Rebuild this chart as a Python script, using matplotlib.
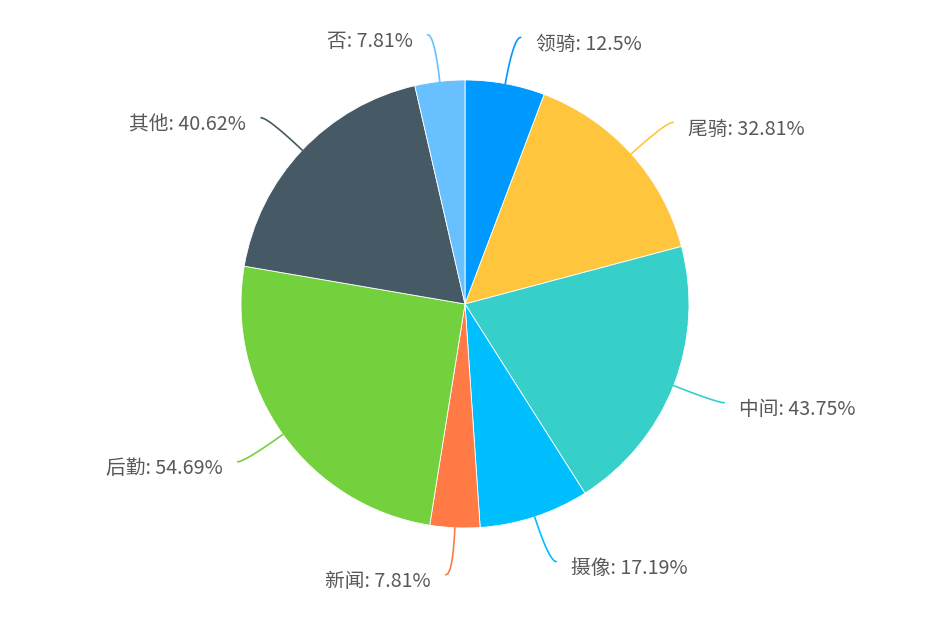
import matplotlib.pyplot as plt
import numpy as np

plt.rcParams['font.family'] = ['Noto Sans CJK SC', 'DejaVu Sans']

labels = ["领骑", "尾骑", "中间", "摄像", "新闻", "后勤", "其他", "否"]
values = [12.5, 32.81, 43.75, 17.19, 7.81, 54.69, 40.62, 7.81]
colors = ["#0099ff", "#ffc53d", "#36cfc9", "#00bfff",
          "#ff7a45", "#73d13d", "#465a65", "#69c0ff"]

W, H = 929, 619
cx, cy, r = 465, H - 304, 224
len1, len2, gap = 47, 7, 15

fig = plt.figure(figsize=(W / 100, H / 100), dpi=100)
ax = fig.add_axes([0, 0, 1, 1])

wedges, _ = ax.pie(values, colors=colors, startangle=90, counterclock=False,
                   radius=r, center=(cx, cy),
                   wedgeprops=dict(edgecolor="white", linewidth=0.6))

total = sum(values)
start = 90.0
for lab, v, col in zip(labels, values, colors):
    span = v / total * 360
    mid = np.radians(start - span / 2)
    start -= span
    dx, dy = np.cos(mid), np.sin(mid)
    side = 1 if dx >= 0 else -1
    p0 = np.array([cx + r * dx, cy + r * dy])
    p1 = np.array([cx + (r + len1) * dx, cy + (r + len1) * dy])
    p2 = p1 + np.array([side * len2, 0])
    t = np.linspace(0, 1, 40)[:, None]
    curve = (1 - t) ** 2 * p0 + 2 * (1 - t) * t * p1 + t ** 2 * p2
    ax.plot(curve[:, 0], curve[:, 1], color=col, lw=1.2, solid_capstyle="round")
    ax.text(p2[0] + side * gap, p2[1] - 7, f"{lab}: {v}%",
            ha="left" if side > 0 else "right", va="center",
            fontsize=14.2, color="#595959")

ax.set_xlim(0, W)
ax.set_ylim(0, H)
ax.set_aspect("equal")
ax.axis("off")

fig.savefig("out.png", dpi=100)
